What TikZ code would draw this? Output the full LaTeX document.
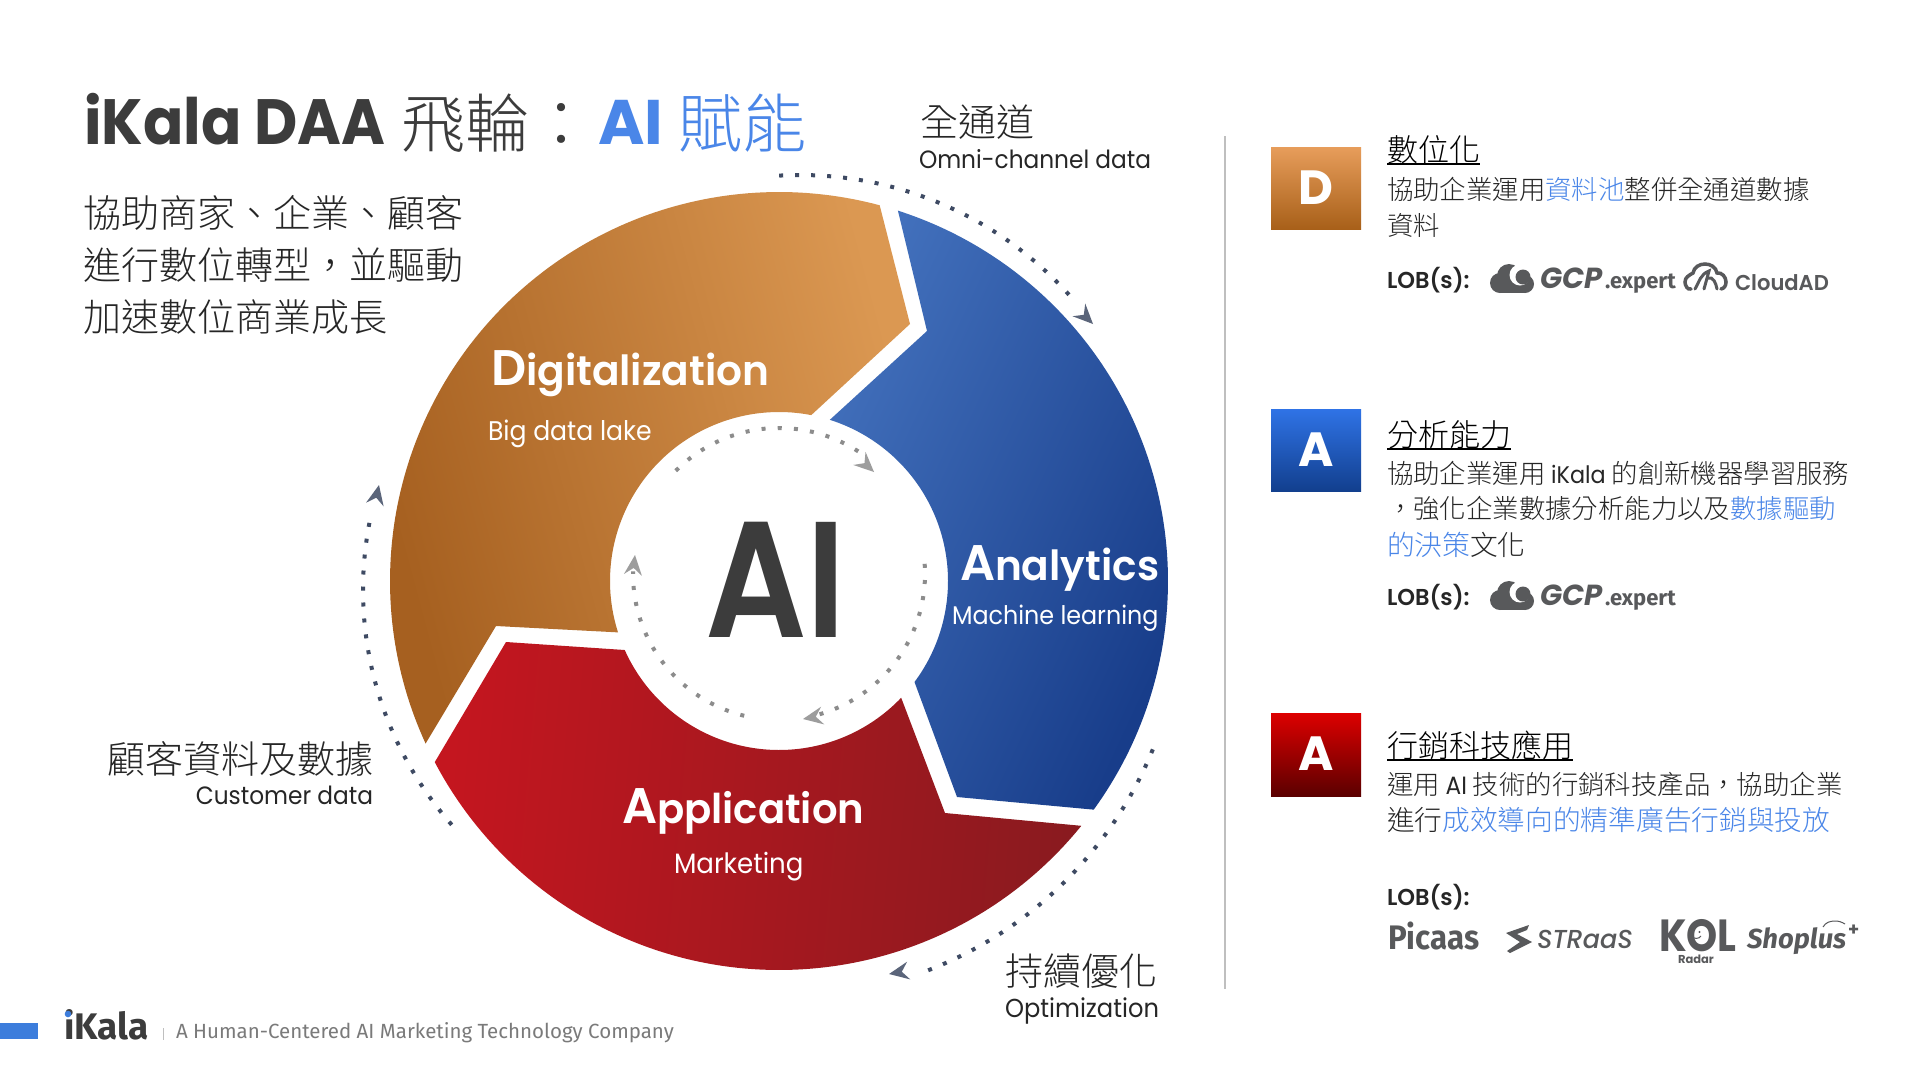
\documentclass[tikz,border=0pt]{standalone}
\usepackage{fontspec}
\usetikzlibrary{arrows.meta}
\setmainfont{Poppins}
\newfontfamily\cjk{Noto Sans CJK TC}[UprightFont=* Light,BoldFont=*]
\newfontfamily\lat{Poppins}[FakeStretch=0.93]
\newfontfamily\latw{Poppins}
\newfontfamily\latm{Poppins}[UprightFont=* Medium,FakeStretch=0.98]
\newfontfamily\lats{Poppins}[UprightFont=* SemiBold,FakeStretch=0.98]
\newfontfamily\latai{Poppins}[UprightFont=* SemiBold,FakeStretch=0.86]
\newfontfamily\latkol{Poppins}[FakeStretch=0.88]
\newfontfamily\foot{Fira Sans}
\newfontfamily\logofont{Fira Sans}
\newfontfamily\logon{Fira Sans}[FakeStretch=0.92]
\definecolor{inktitle}{HTML}{3C3C3C}
\definecolor{inkbody}{HTML}{262626}
\definecolor{linkblue}{HTML}{4A86E8}
\definecolor{logogray}{HTML}{58595B}
\definecolor{dotdark}{HTML}{3E4A63}
\definecolor{dotgray}{HTML}{8C8C8C}
\definecolor{HTMLorangeD}{HTML}{A66020}
\definecolor{HTMLorangeL}{HTML}{DB9852}
\definecolor{HTMLblueL}{HTML}{4270BC}
\definecolor{HTMLblueD}{HTML}{183D8A}
\definecolor{HTMLredL}{HTML}{C4161F}
\definecolor{HTMLredD}{HTML}{8A1A1F}
\definecolor{HTMLbadgeOT}{HTML}{E79D5B}
\definecolor{HTMLbadgeOB}{HTML}{A86019}
\definecolor{HTMLbadgeBT}{HTML}{2F73E6}
\definecolor{HTMLbadgeBB}{HTML}{123F8E}
\definecolor{HTMLbadgeRT}{HTML}{DD0000}
\definecolor{HTMLbadgeRB}{HTML}{5B0000}
\definecolor{HTMLfootblue}{HTML}{3C7DDC}
\newcommand\fs[1]{\fontsize{#1}{#1}\selectfont}
\newcommand\blue[1]{\textcolor{linkblue}{#1}}
\tikzset{
  txt/.style={inner sep=0pt,outer sep=0pt,anchor=base west},
  head/.style={txt,text=black,font=\cjk\fs{31}},
  bodyl/.style={txt,text=inkbody,font=\cjk\fs{26.4}},
  intro/.style={txt,text=inkbody,font=\cjk\fs{38}},
  eng/.style={txt,text=inkbody,font=\lat\fs{25}},
  seg/.style={txt,text=white,font=\lat\fs{27}},
  wheel/.style={txt,text=white,font=\lats\fs{50}},
  lob/.style={txt,text=inkbody,font=\lats\fs{23}},
  ul/.style={black,line width=2pt},
  outerdots/.style={dotdark,line width=4pt,dash pattern=on 4pt off 12pt},
  innerdots/.style={dotgray,line width=4pt,dash pattern=on 4pt off 12.2pt},
  outertip/.style={dotdark!85!white},
  innertip/.style={dotgray!85!white},
  badge/.style={txt,anchor=center,text=white,font=\latw\bfseries\fs{48}},
  logot/.style={txt,text=logogray},
}
% arc of dots: centre x, centre y, radius, from angle, to angle (degrees, clockwise on screen)
\newcommand\outerarc[5]{\draw[outerdots] plot[domain=#4:#5,samples=120] ({#1+#3*cos(\x)},{#2+#3*sin(\x)});}
\newcommand\innerarc[3]{\draw[innerdots] plot[domain=#1:#2,samples=120] ({779+#3*cos(\x)},{574+#3*sin(\x)});}
\newcommand\tipat[4]{% x y rotation style
  \fill[#4,shift={(#1,#2)},rotate=#3] (0,0) -- (-20,-9) -- (-13,0) -- (-20,9) -- cycle;}
\newcommand\cloudicon[2]{%
  \begin{scope}[shift={(#1,#2)}]
    \fill[logogray] (10,19) circle (10);
    \fill[logogray] (19,12) circle (12);
    \fill[logogray] (35,20) circle (9);
    \fill[logogray] (10,19) rectangle (36,29);
    \fill[white] (30,11) circle (10.5);
    \fill[logogray] (33,13) circle (7.5);
  \end{scope}}
\begin{document}
\begin{tikzpicture}[x=1pt,y=-1pt]
\useasboundingbox (0,0) rectangle (1920,1080);
\fill[white] (0,0) rectangle (1920,1080);

% title
\node[txt,text=inktitle,font=\lat\bfseries\fs{64}] (t1) at (84,144) {iKala DAA};
\node[txt,text=inktitle,font=\cjk\fs{64}] (t2) at (401,147) {飛輪：};
\node[txt,text=linkblue,font=\latw\bfseries\fs{63}] (t3) at (598,144) {AI};
\node[txt,text=linkblue,font=\cjk\fs{64}] (t4) at (678,147) {賦能};

% intro
\node[intro] (i1) at (83,227) {協助商家、企業、顧客};
\node[intro] (i2) at (83,279) {進行數位轉型，並驅動};
\node[intro] (i3) at (83,331) {加速數位商業成長};

% segments
\shade[left color=HTMLorangeD,right color=HTMLorangeL,shading angle=105]
  plot[domain=155.3:285,samples=120] ({779+389*cos(\x)},{581+389*sin(\x)}) -- (910,324)
  -- plot[domain=281:162.3,samples=90] ({779+169*cos(\x)},{581+169*sin(\x)}) -- (496,626) -- cycle;
\shade[left color=HTMLblueL,right color=HTMLblueD,shading angle=65]
  plot[domain=-72.2:36,samples=120] ({779+389*cos(\x)},{581+389*sin(\x)}) -- (957,797)
  -- plot[domain=36.7:-72.5,samples=90] ({779+169*cos(\x)},{581+169*sin(\x)}) -- (927,331) -- cycle;
\shade[left color=HTMLredL,right color=HTMLredD,shading angle=85]
  plot[domain=39:152.25,samples=120] ({779+389*cos(\x)},{581+389*sin(\x)}) -- (506,642)
  -- plot[domain=155.9:43.7,samples=90] ({779+169*cos(\x)},{581+169*sin(\x)}) -- (945,813) -- cycle;

% outer dotted arcs
\outerarc{800}{537}{362}{266.7}{-40.5+360}
\tipat{1093}{324}{-45}{outertip}
\outerarc{785}{600}{397}{22.1}{70.5}
\tipat{889}{974}{-170}{outertip}
\outerarc{718}{590}{355}{138.6}{192.6}
\tipat{379}{485}{78}{outertip}

% inner dotted arcs
\innerarc{225}{305}{146}
\tipat{874}{472}{-43}{innertip}
\innerarc{-4}{74}{146}
\tipat{803}{719}{-170}{innertip}
\innerarc{103.8}{181}{146}
\tipat{635}{555}{84}{innertip}

% wheel labels
\node[wheel] (dg) at (491,385) {D\fs{41.5}igitalization};
\node[seg] (dgs) at (488,440) {Big data lake};
\node[wheel] (an) at (960,580) {A\fs{41.5}nalytics};
\node[seg,font=\lat\fs{25.6}] (ans) at (952,624) {Machine learning};
\node[wheel] (ap) at (622,823) {A\fs{41}pplication};
\node[seg,font=\lat\fs{28}] (aps) at (674,873) {Marketing};
\node[txt,text=inktitle,font=\latai\fs{165}] (ai) at (705,637) {AI};

% outer captions
\node[intro] (c1) at (920,136) {全通道};
\node[eng] (c1e) at (919,168) {Omni-channel data};
\node[intro,anchor=base east] (c2) at (373,773) {顧客資料及數據};
\node[eng,anchor=base east] (c2e) at (373,804) {Customer data};
\node[intro] (c3) at (1005,985) {持續優化};
\node[eng,font=\lat\fs{26}] (c3e) at (1005,1017) {Optimization};

% divider
\coordinate (d1) at (1224.5,136);
\coordinate (d2) at (1224.5,989);
\draw[color=black!25,line width=2pt] (d1) -- (d2);

% badges
\shade[top color=HTMLbadgeOT,bottom color=HTMLbadgeOB] (1271,147) rectangle (1361,229);
\node[badge] (b1) at (1316,188) {D};
\shade[top color=HTMLbadgeBT,bottom color=HTMLbadgeBB] (1271,409) rectangle (1361,491);
\node[badge] (b2) at (1316,450) {A};
\shade[top color=HTMLbadgeRT,bottom color=HTMLbadgeRB] (1271,713) rectangle (1361,796);
\node[badge] (b3) at (1316,754) {A};

% block 1
\node[head] (h1) at (1387,161) {數位化};
\draw[ul] ([yshift=-3pt]h1.base west) -- ([yshift=-3pt]h1.base east);
\node[bodyl] (l11) at (1387,199) {協助企業運用\blue{資料池}整併全通道數據};
\node[bodyl] (l12) at (1387,235) {資料};
\node[lob] (lob1) at (1387,288) {LOB(s):};
\cloudicon{1490}{264}
\node[logot,font=\latw\bfseries\itshape\fs{29}] (g1) at (1540,288) {GCP};
\node[logot,font=\logofont\bfseries\fs{22}] (g1x) at (1605,288) {.expert};
\begin{scope}[shift={(1683,262)}]
  \draw[logogray,line width=3.5pt,line cap=round] (8,27) to[out=200,in=-90] (2,20) to[out=90,in=210] (10,11) to[out=80,in=180] (22,2) to[out=0,in=100] (34,11) to[out=10,in=90] (43,20) to[out=-90,in=10] (38,27);
  \draw[logogray,line width=3pt,line cap=round] (12,27) to[out=60,in=200] (26,9) -- (21,27);
  \draw[logogray,line width=3pt,line cap=round] (25,16) to[out=20,in=100] (34,27);
\end{scope}
\node[logot,font=\lats\fs{21.5}] (cad) at (1735,290) {CloudAD};

% block 2
\node[head] (h2) at (1387,446) {分析能力};
\draw[ul] ([yshift=-3pt]h2.base west) -- ([yshift=-3pt]h2.base east);
\node[bodyl] (l21) at (1387,483) {協助企業運用 {\lat\fs{24}iKala} 的創新機器學習服務};
\node[bodyl] (l22) at (1387,518) {，強化企業數據分析能力以及\blue{數據驅動}};
\node[bodyl,font=\cjk\fs{27.7}] (l23) at (1387,555) {\blue{的決策}文化};
\node[lob] (lob2) at (1387,605) {LOB(s):};
\cloudicon{1490}{581}
\node[logot,font=\latw\bfseries\itshape\fs{29}] (g2) at (1540,605) {GCP};
\node[logot,font=\logofont\bfseries\fs{22}] (g2x) at (1605,605) {.expert};

% block 3
\node[head] (h3) at (1387,757) {行銷科技應用};
\draw[ul] ([yshift=-3pt]h3.base west) -- ([yshift=-3pt]h3.base east);
\node[bodyl] (l31) at (1387,794) {運用 {\lat\fs{25}AI} 技術的行銷科技產品，協助企業};
\node[bodyl,font=\cjk\fs{27.7}] (l32) at (1387,830) {進行\blue{成效導向的精準廣告行銷與投放}};
\node[lob] (lob3) at (1387,905) {LOB(s):};
\node[logot,font=\logon\bfseries\fs{34}] (pic) at (1388,949) {Picaas};
\fill[logogray] (1506,933) -- (1529,925) -- (1527,930) -- (1517,934) -- (1532,942) -- (1510,953) -- (1507,951) -- (1520,942) -- cycle;
\node[logot,font=\latm\itshape\fs{26}] (st) at (1537,948) {STRaaS};
\node[logot,font=\latkol\bfseries\fs{45},text depth=0pt] (kol) at (1659,951) {KOL};
\fill[logogray] (1693,932) circle (1.2) (1699.5,932) circle (1.2);
\draw[logogray,line width=1pt] (1691.5,936) to[out=-60,in=-120] (1701,936);
\node[logot,font=\latw\bfseries\fs{11.5},text height=8pt] (rad) at (1678,963) {Radar};
\node[logot,font=\logofont\bfseries\itshape\fs{27.5}] (sh) at (1747,948) {Shoplus};
\node[logot,font=\logofont\bfseries\fs{21},text depth=0pt] (shp) at (1848,936) {+};
\draw[logogray,line width=1pt] (1823,927) to[out=60,in=180] (1835,921) to[out=0,in=150] (1845,924);

% footer
\fill[HTMLfootblue] (0,1023) rectangle (38,1039);
\node[txt,text=inktitle,font=\foot\bfseries\fs{37}] (fk) at (64,1039) {iKala};
\fill[HTMLfootblue] (68,1014) circle (3.3);
\coordinate (fv1) at (163,1028);
\coordinate (fv2) at (163,1040);
\draw[black!25,line width=1pt] (fv1) -- (fv2);
\node[txt,text=black!52,font=\foot\fs{20.5}] (ft) at (176,1038) {A Human-Centered AI Marketing Technology Company};
\end{tikzpicture}
\end{document}
